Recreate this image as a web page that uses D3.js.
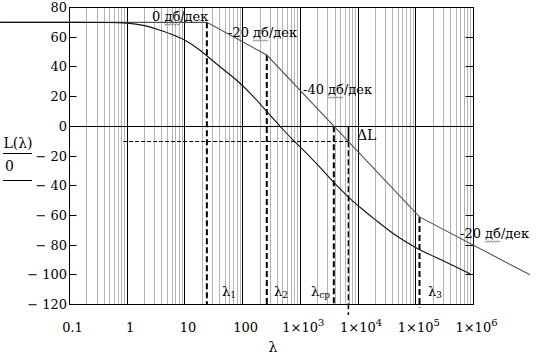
<!DOCTYPE html>
<html><head><meta charset="utf-8">
<script src="https://cdn.jsdelivr.net/npm/d3@7"></script>
<style>
html,body{margin:0;padding:0;background:#fff;}
svg{display:block;}
svg text{font-family:"DejaVu Serif","Liberation Serif",serif;}
</style></head>
<body>
<svg id="chart" width="536" height="360"></svg>
<script>
// ---- data ----
const xTicks = [0.1, 1, 10, 100, 1e3, 1e4, 1e5, 1e6];
const xTickBase = ["0.1", "1", "10", "100", "1×10", "1×10", "1×10", "1×10"];
const xTickExp = ["", "", "", "", "3", "4", "5", "6"];
const yTicks = [80, 60, 40, 20, 0, -20, -40, -60, -80, -100, -120];

// asymptotic LAFC (break points)
const asymL = [0.006, 24, 262, 116000, 9.5e6];
const asymDb = [70, 70, 48, -61, -100];

// actual (smooth) LAFC
const curveL = [0.0063, 0.1, 0.47, 1, 2, 3.7, 6.3, 10, 18.3, 23.9, 40, 90, 158, 262, 447, 757, 1000, 2000, 3730, 7260, 10800, 20000, 40000, 97300, 316000, 871000];
const curveDb = [70, 70, 69.9, 69.5, 67.8, 64.7, 61.5, 58, 51.2, 47.5, 40.3, 29, 19.5, 10, 0, -9.5, -14, -26, -37.5, -48.7, -54.5, -63, -72, -81.4, -91, -99.3];

// characteristic frequencies
const lam1 = 24, lam2 = 262, lamCp = 3800, lamDL = 6800, lam3 = 116000;
const levelDL = -10;

// ---- drawing ----
const svg = d3.select("#chart");
const x = d3.scaleLog().domain([0.1, 1e6]).range([69.5, 473.5]);
const y = d3.scaleLinear().domain([-120, 80]).range([304.5, 7.5]);
const X0 = x.range()[0], X1 = x.range()[1], Y0 = y.range()[1], Y1 = y.range()[0];
const crisp = v => Math.round(v - 0.5) + 0.5;

const minor = [], major = [];
for (let e = -1; e < 6; e++) {
  for (let m = 2; m <= 9; m++) minor.push(m * Math.pow(10, e));
}
for (let e = 0; e < 6; e++) major.push(Math.pow(10, e));
svg.append("g").selectAll("line").data(minor).join("line")
  .attr("x1", d => crisp(x(d))).attr("x2", d => crisp(x(d)))
  .attr("y1", Y0).attr("y2", Y1)
  .attr("stroke", "#b4b4b4").attr("stroke-width", 1);
svg.append("g").selectAll("line").data(major).join("line")
  .attr("x1", d => crisp(x(d))).attr("x2", d => crisp(x(d)))
  .attr("y1", Y0).attr("y2", Y1)
  .attr("stroke", "#000").attr("stroke-width", 1);

svg.append("line").attr("x1", X0).attr("x2", X1)
  .attr("y1", crisp(y(0))).attr("y2", crisp(y(0)))
  .attr("stroke", "#000");

svg.append("rect").attr("x", X0).attr("y", Y0).attr("width", X1 - X0).attr("height", Y1 - Y0)
  .attr("fill", "none").attr("stroke", "#000").attr("stroke-width", 1);

const yt = svg.append("g");
yt.selectAll("line.l").data(yTicks).join("line").attr("class", "l")
  .attr("x1", X0).attr("x2", X0 + 7)
  .attr("y1", d => crisp(y(d))).attr("y2", d => crisp(y(d))).attr("stroke", "#000");
yt.selectAll("line.r").data(yTicks).join("line").attr("class", "r")
  .attr("x1", X1 - 8).attr("x2", X1)
  .attr("y1", d => crisp(y(d))).attr("y2", d => crisp(y(d))).attr("stroke", "#000");
yt.selectAll("text").data(yTicks).join("text")
  .attr("x", 67).attr("y", d => y(d) + 4.5)
  .attr("text-anchor", "end").attr("font-size", 13)
  .text(d => d < 0 ? "\u2212 " + Math.abs(d) : String(d));

const xt = svg.append("g");
xTicks.forEach((v, i) => {
  const t = xt.append("text").attr("x", x(v) + 3).attr("y", 332)
    .attr("text-anchor", "middle").attr("font-size", 13);
  t.append("tspan").text(xTickBase[i]);
  if (xTickExp[i]) t.append("tspan").attr("dy", -6).attr("font-size", 10).text(xTickExp[i]);
});

svg.append("text").attr("x", 273).attr("y", 352).attr("text-anchor", "middle")
  .attr("font-size", 14).text("λ");
svg.append("text").attr("x", 18).attr("y", 148).attr("text-anchor", "middle")
  .attr("font-size", 14).text("L(λ)");
svg.append("line").attr("x1", 3).attr("x2", 32).attr("y1", 153.5).attr("y2", 153.5).attr("stroke", "#000");
svg.append("text").attr("x", 5).attr("y", 171).attr("font-size", 14).text("0");
svg.append("line").attr("x1", 3).attr("x2", 32).attr("y1", 180.5).attr("y2", 180.5).attr("stroke", "#000");

const guides = svg.append("g");
guides.append("line")
  .attr("x1", x(0.85)).attr("x2", x(lamDL))
  .attr("y1", crisp(y(levelDL))).attr("y2", crisp(y(levelDL)))
  .attr("stroke", "#000").attr("stroke-width", 1).attr("stroke-dasharray", "4,2");
const vlines = [
  {l: lam1, top: 70, bot: -120, w: 2},
  {l: lam2, top: 48, bot: -120.5, w: 2},
  {l: lamCp, top: 0, bot: -120, w: 2},
  {l: lamDL, top: levelDL, bot: -127, w: 1.5},
  {l: lam3, top: -61, bot: -122, w: 2}
];
guides.selectAll("line.v").data(vlines).join("line").attr("class", "v")
  .attr("x1", d => x(d.l)).attr("x2", d => x(d.l))
  .attr("y1", d => y(d.top)).attr("y2", d => y(d.bot))
  .attr("stroke", "#000").attr("stroke-width", d => d.w).attr("stroke-dasharray", "6,3");
guides.append("line").attr("x1", x(lamDL)).attr("x2", x(lamDL))
  .attr("y1", y(0)).attr("y2", y(levelDL)).attr("stroke", "#000").attr("stroke-width", 1.5);

const line = d3.line().x(d => x(d[0])).y(d => y(d[1]));
svg.append("path").datum(asymL.map((l, i) => [l, asymDb[i]]))
  .attr("d", line).attr("fill", "none").attr("stroke", "#555").attr("stroke-width", 1.1);
svg.append("path").datum(curveL.map((l, i) => [l, curveDb[i]]))
  .attr("d", line.curve(d3.curveMonotoneX)).attr("fill", "none").attr("stroke", "#111").attr("stroke-width", 1.1);

function slopeLabel(txt, px, py) {
  const t = svg.append("text").attr("x", px).attr("y", py).attr("font-size", 13).text(txt);
  const idx = txt.indexOf("дб");
  const node = t.node();
  try {
    const start = node.getStartPositionOfChar(idx).x;
    const end = node.getEndPositionOfChar(idx + 1).x;
    const pts = [];
    let k = 0;
    for (let xx = start; xx <= end + 0.01; xx += 1.5, k++) pts.push([xx, py + 3 + (k % 2 ? 1.2 : -0.2)]);
    svg.append("path").attr("d", d3.line()(pts)).attr("fill", "none")
      .attr("stroke", "#6b6b4a").attr("stroke-width", 0.9);
  } catch (e) {}
}
slopeLabel("0 дб/дек", 152, 21);
slopeLabel("-20 дб/дек", 228, 37);
slopeLabel("-40 дб/дек", 303, 94);
slopeLabel("-20 дб/дек", 460, 238);

svg.append("text").attr("x", 357).attr("y", 140).attr("font-size", 14).text("ΔL");

function lamLabel(sub, px) {
  const t = svg.append("text").attr("x", px).attr("y", 296).attr("font-size", 13);
  t.append("tspan").text("λ");
  t.append("tspan").attr("dy", 2).attr("font-size", 9).text(sub);
}
lamLabel("1", 222);
lamLabel("2", 274);
lamLabel("ср", 311);
lamLabel("3", 428);
</script>
</body></html>
